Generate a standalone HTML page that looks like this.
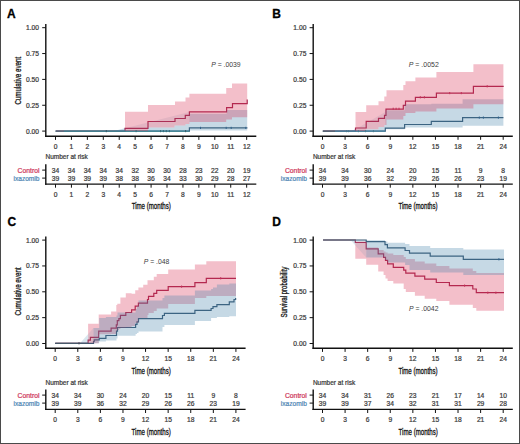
<!DOCTYPE html>
<html><head><meta charset="utf-8"><style>
html,body{margin:0;padding:0;background:#fff;}
body{width:520px;height:444px;overflow:hidden;}
svg{display:block;font-family:"Liberation Sans", sans-serif;}
</style></head><body>
<svg width="520" height="444" viewBox="0 0 520 444">
<rect x="0" y="0" width="520" height="444" fill="#fff"/>
<text x="7.1" y="17.5" font-size="12" text-anchor="start" fill="#000" font-weight="bold" font-style="normal" stroke="#000" stroke-width="0.3" >A</text>
<path d="M56 131.1H125V128.3H148V121.5H175V118.5H185.3V115.3H189.4V111.8H226.6V107.6H232.5V103.7H247.2V99.6H247.2" fill="none" stroke="#A5274F" stroke-width="1.2"/>
<path d="M55.5 131.1H189.4V127.9H247.4" fill="none" stroke="#3A5872" stroke-width="1.2"/>
<path d="M55.5 131.1H64" fill="none" stroke="#5F7585" stroke-width="1.2"/>
<path d="M64 131.1H189.4" fill="none" stroke="#3F8C98" stroke-width="1.2"/>
<defs><clipPath id="pcA"><path d="M125 111.8H148V104.9H175V101.5H185.5V97.6H189.4V93.7H226.2V88.1H232V83.4H247.2V117.3H232V119.4H226.2V122H189.4V124H185.5V125.5H174.5V127.6H148V131.1H125Z"/></clipPath><mask id="pmA" maskUnits="userSpaceOnUse" x="0" y="0" width="520" height="444"><rect x="0" y="0" width="520" height="444" fill="#fff"/><path d="M125 111.8H148V104.9H175V101.5H185.5V97.6H189.4V93.7H226.2V88.1H232V83.4H247.2V117.3H232V119.4H226.2V122H189.4V124H185.5V125.5H174.5V127.6H148V131.1H125Z" fill="#000"/></mask></defs>
<path d="M114 131.1L189.4 112V131.1Z" fill="#4180A8" fill-opacity="0.3" mask="url(#pmA)"/>
<path d="M114 131.1L189.4 112V131.1Z" fill="#4180A8" fill-opacity="0.12" clip-path="url(#pcA)"/>
<path d="M189.4 113.8H226.6V110H247.2V130.6H189.4V131.1Z" fill="#4180A8" fill-opacity="0.3"/>
<path d="M125 111.8H148V104.9H175V101.5H185.5V97.6H189.4V93.7H226.2V88.1H232V83.4H247.2V117.3H232V119.4H226.2V122H189.4V124H185.5V125.5H174.5V127.6H148V131.1H125Z" fill="#D72A4E" fill-opacity="0.3"/>
<path d="M106.3 130V132.2" stroke="#3a5a6a" stroke-width="1"/>
<path d="M136.1 130V132.2" stroke="#3a6a7a" stroke-width="1"/>
<path d="M160.5 130V132.2" stroke="#3a6a7a" stroke-width="1"/>
<path d="M163.4 130V132.2" stroke="#3a6a7a" stroke-width="1"/>
<path d="M166.3 130V132.2" stroke="#3a6a7a" stroke-width="1"/>
<path d="M169.4 130V132.2" stroke="#3a6a7a" stroke-width="1"/>
<path d="M185.6 130V132.2" stroke="#3a5a6a" stroke-width="1"/>
<path d="M200.5 126.8V129" stroke="#32638C" stroke-width="1"/>
<path d="M226.2 126.8V129" stroke="#32638C" stroke-width="1"/>
<path d="M231.2 126.8V129" stroke="#32638C" stroke-width="1"/>
<path d="M245.8 126.8V129" stroke="#32638C" stroke-width="1"/>
<path d="M45.8 24V137" stroke="#111" stroke-width="1.4"/>
<path d="M45.1 136.3H256.3" stroke="#111" stroke-width="1.4"/>
<path d="M42.2 131.1H45.8" stroke="#111" stroke-width="1"/>
<text x="39" y="133.5" font-size="6.7" text-anchor="end" fill="#3a3a3a" font-weight="normal" font-style="normal" stroke="#3a3a3a" stroke-width="0.22" >0.00</text>
<path d="M42.2 105.25H45.8" stroke="#111" stroke-width="1"/>
<text x="39" y="107.65" font-size="6.7" text-anchor="end" fill="#3a3a3a" font-weight="normal" font-style="normal" stroke="#3a3a3a" stroke-width="0.22" >0.25</text>
<path d="M42.2 79.4H45.8" stroke="#111" stroke-width="1"/>
<text x="39" y="81.8" font-size="6.7" text-anchor="end" fill="#3a3a3a" font-weight="normal" font-style="normal" stroke="#3a3a3a" stroke-width="0.22" >0.50</text>
<path d="M42.2 53.55H45.8" stroke="#111" stroke-width="1"/>
<text x="39" y="55.95" font-size="6.7" text-anchor="end" fill="#3a3a3a" font-weight="normal" font-style="normal" stroke="#3a3a3a" stroke-width="0.22" >0.75</text>
<path d="M42.2 27.7H45.8" stroke="#111" stroke-width="1"/>
<text x="39" y="30.1" font-size="6.7" text-anchor="end" fill="#3a3a3a" font-weight="normal" font-style="normal" stroke="#3a3a3a" stroke-width="0.22" >1.00</text>
<path d="M55.5 136.3V139.9" stroke="#111" stroke-width="1"/>
<text x="55.5" y="148.5" font-size="6.7" text-anchor="middle" fill="#3a3a3a" font-weight="normal" font-style="normal" stroke="#3a3a3a" stroke-width="0.22" >0</text>
<path d="M71.43 136.3V139.9" stroke="#111" stroke-width="1"/>
<text x="71.43" y="148.5" font-size="6.7" text-anchor="middle" fill="#3a3a3a" font-weight="normal" font-style="normal" stroke="#3a3a3a" stroke-width="0.22" >1</text>
<path d="M87.36 136.3V139.9" stroke="#111" stroke-width="1"/>
<text x="87.36" y="148.5" font-size="6.7" text-anchor="middle" fill="#3a3a3a" font-weight="normal" font-style="normal" stroke="#3a3a3a" stroke-width="0.22" >2</text>
<path d="M103.29 136.3V139.9" stroke="#111" stroke-width="1"/>
<text x="103.29" y="148.5" font-size="6.7" text-anchor="middle" fill="#3a3a3a" font-weight="normal" font-style="normal" stroke="#3a3a3a" stroke-width="0.22" >3</text>
<path d="M119.22 136.3V139.9" stroke="#111" stroke-width="1"/>
<text x="119.22" y="148.5" font-size="6.7" text-anchor="middle" fill="#3a3a3a" font-weight="normal" font-style="normal" stroke="#3a3a3a" stroke-width="0.22" >4</text>
<path d="M135.15 136.3V139.9" stroke="#111" stroke-width="1"/>
<text x="135.15" y="148.5" font-size="6.7" text-anchor="middle" fill="#3a3a3a" font-weight="normal" font-style="normal" stroke="#3a3a3a" stroke-width="0.22" >5</text>
<path d="M151.08 136.3V139.9" stroke="#111" stroke-width="1"/>
<text x="151.08" y="148.5" font-size="6.7" text-anchor="middle" fill="#3a3a3a" font-weight="normal" font-style="normal" stroke="#3a3a3a" stroke-width="0.22" >6</text>
<path d="M167.01 136.3V139.9" stroke="#111" stroke-width="1"/>
<text x="167.01" y="148.5" font-size="6.7" text-anchor="middle" fill="#3a3a3a" font-weight="normal" font-style="normal" stroke="#3a3a3a" stroke-width="0.22" >7</text>
<path d="M182.94 136.3V139.9" stroke="#111" stroke-width="1"/>
<text x="182.94" y="148.5" font-size="6.7" text-anchor="middle" fill="#3a3a3a" font-weight="normal" font-style="normal" stroke="#3a3a3a" stroke-width="0.22" >8</text>
<path d="M198.87 136.3V139.9" stroke="#111" stroke-width="1"/>
<text x="198.87" y="148.5" font-size="6.7" text-anchor="middle" fill="#3a3a3a" font-weight="normal" font-style="normal" stroke="#3a3a3a" stroke-width="0.22" >9</text>
<path d="M214.8 136.3V139.9" stroke="#111" stroke-width="1"/>
<text x="214.8" y="148.5" font-size="6.7" text-anchor="middle" fill="#3a3a3a" font-weight="normal" font-style="normal" stroke="#3a3a3a" stroke-width="0.22" >10</text>
<path d="M230.73 136.3V139.9" stroke="#111" stroke-width="1"/>
<text x="230.73" y="148.5" font-size="6.7" text-anchor="middle" fill="#3a3a3a" font-weight="normal" font-style="normal" stroke="#3a3a3a" stroke-width="0.22" >11</text>
<path d="M246.66 136.3V139.9" stroke="#111" stroke-width="1"/>
<text x="246.66" y="148.5" font-size="6.7" text-anchor="middle" fill="#3a3a3a" font-weight="normal" font-style="normal" stroke="#3a3a3a" stroke-width="0.22" >12</text>
<text transform="translate(20.8 80.75) rotate(-90)" font-size="8.8" text-anchor="middle" fill="#111" stroke="#111" stroke-width="0.3" textLength="47.7" lengthAdjust="spacingAndGlyphs">Cumulative event</text>
<text x="211.2" y="66.7" font-size="6.9" fill="#3a3a3a" textLength="29.5" lengthAdjust="spacingAndGlyphs"><tspan font-style="italic">P</tspan> = .0039</text>
<text x="45.5" y="159.2" font-size="6.5" text-anchor="start" fill="#3a3a3a" font-weight="normal" font-style="normal" stroke="#3a3a3a" stroke-width="0.22" >Number at risk</text>
<text x="39.5" y="173" font-size="6.6" text-anchor="end" fill="#CF3A60" font-weight="normal" font-style="normal" stroke="#CF3A60" stroke-width="0.22" textLength="22" lengthAdjust="spacingAndGlyphs">Control</text>
<text x="39.5" y="181" font-size="6.6" text-anchor="end" fill="#4F87B5" font-weight="normal" font-style="normal" stroke="#4F87B5" stroke-width="0.22" >ixazomib</text>
<text x="55.5" y="173" font-size="6.7" text-anchor="middle" fill="#3a3a3a" font-weight="normal" font-style="normal" stroke="#3a3a3a" stroke-width="0.22" >34</text>
<text x="55.5" y="181" font-size="6.7" text-anchor="middle" fill="#3a3a3a" font-weight="normal" font-style="normal" stroke="#3a3a3a" stroke-width="0.22" >39</text>
<text x="71.43" y="173" font-size="6.7" text-anchor="middle" fill="#3a3a3a" font-weight="normal" font-style="normal" stroke="#3a3a3a" stroke-width="0.22" >34</text>
<text x="71.43" y="181" font-size="6.7" text-anchor="middle" fill="#3a3a3a" font-weight="normal" font-style="normal" stroke="#3a3a3a" stroke-width="0.22" >39</text>
<text x="87.36" y="173" font-size="6.7" text-anchor="middle" fill="#3a3a3a" font-weight="normal" font-style="normal" stroke="#3a3a3a" stroke-width="0.22" >34</text>
<text x="87.36" y="181" font-size="6.7" text-anchor="middle" fill="#3a3a3a" font-weight="normal" font-style="normal" stroke="#3a3a3a" stroke-width="0.22" >39</text>
<text x="103.29" y="173" font-size="6.7" text-anchor="middle" fill="#3a3a3a" font-weight="normal" font-style="normal" stroke="#3a3a3a" stroke-width="0.22" >34</text>
<text x="103.29" y="181" font-size="6.7" text-anchor="middle" fill="#3a3a3a" font-weight="normal" font-style="normal" stroke="#3a3a3a" stroke-width="0.22" >39</text>
<text x="119.22" y="173" font-size="6.7" text-anchor="middle" fill="#3a3a3a" font-weight="normal" font-style="normal" stroke="#3a3a3a" stroke-width="0.22" >34</text>
<text x="119.22" y="181" font-size="6.7" text-anchor="middle" fill="#3a3a3a" font-weight="normal" font-style="normal" stroke="#3a3a3a" stroke-width="0.22" >38</text>
<text x="135.15" y="173" font-size="6.7" text-anchor="middle" fill="#3a3a3a" font-weight="normal" font-style="normal" stroke="#3a3a3a" stroke-width="0.22" >32</text>
<text x="135.15" y="181" font-size="6.7" text-anchor="middle" fill="#3a3a3a" font-weight="normal" font-style="normal" stroke="#3a3a3a" stroke-width="0.22" >38</text>
<text x="151.08" y="173" font-size="6.7" text-anchor="middle" fill="#3a3a3a" font-weight="normal" font-style="normal" stroke="#3a3a3a" stroke-width="0.22" >30</text>
<text x="151.08" y="181" font-size="6.7" text-anchor="middle" fill="#3a3a3a" font-weight="normal" font-style="normal" stroke="#3a3a3a" stroke-width="0.22" >36</text>
<text x="167.01" y="173" font-size="6.7" text-anchor="middle" fill="#3a3a3a" font-weight="normal" font-style="normal" stroke="#3a3a3a" stroke-width="0.22" >30</text>
<text x="167.01" y="181" font-size="6.7" text-anchor="middle" fill="#3a3a3a" font-weight="normal" font-style="normal" stroke="#3a3a3a" stroke-width="0.22" >34</text>
<text x="182.94" y="173" font-size="6.7" text-anchor="middle" fill="#3a3a3a" font-weight="normal" font-style="normal" stroke="#3a3a3a" stroke-width="0.22" >28</text>
<text x="182.94" y="181" font-size="6.7" text-anchor="middle" fill="#3a3a3a" font-weight="normal" font-style="normal" stroke="#3a3a3a" stroke-width="0.22" >33</text>
<text x="198.87" y="173" font-size="6.7" text-anchor="middle" fill="#3a3a3a" font-weight="normal" font-style="normal" stroke="#3a3a3a" stroke-width="0.22" >23</text>
<text x="198.87" y="181" font-size="6.7" text-anchor="middle" fill="#3a3a3a" font-weight="normal" font-style="normal" stroke="#3a3a3a" stroke-width="0.22" >30</text>
<text x="214.8" y="173" font-size="6.7" text-anchor="middle" fill="#3a3a3a" font-weight="normal" font-style="normal" stroke="#3a3a3a" stroke-width="0.22" >22</text>
<text x="214.8" y="181" font-size="6.7" text-anchor="middle" fill="#3a3a3a" font-weight="normal" font-style="normal" stroke="#3a3a3a" stroke-width="0.22" >29</text>
<text x="230.73" y="173" font-size="6.7" text-anchor="middle" fill="#3a3a3a" font-weight="normal" font-style="normal" stroke="#3a3a3a" stroke-width="0.22" >20</text>
<text x="230.73" y="181" font-size="6.7" text-anchor="middle" fill="#3a3a3a" font-weight="normal" font-style="normal" stroke="#3a3a3a" stroke-width="0.22" >28</text>
<text x="246.66" y="173" font-size="6.7" text-anchor="middle" fill="#3a3a3a" font-weight="normal" font-style="normal" stroke="#3a3a3a" stroke-width="0.22" >19</text>
<text x="246.66" y="181" font-size="6.7" text-anchor="middle" fill="#3a3a3a" font-weight="normal" font-style="normal" stroke="#3a3a3a" stroke-width="0.22" >27</text>
<path d="M45.8 164.2V184.8" stroke="#111" stroke-width="1.4"/>
<path d="M45.1 184.1H256.3" stroke="#111" stroke-width="1.4"/>
<path d="M42.2 170.1H45.8" stroke="#111" stroke-width="1"/>
<path d="M42.2 178.1H45.8" stroke="#111" stroke-width="1"/>
<path d="M55.5 184.1V187.7" stroke="#111" stroke-width="1"/>
<text x="55.5" y="196.8" font-size="6.7" text-anchor="middle" fill="#3a3a3a" font-weight="normal" font-style="normal" stroke="#3a3a3a" stroke-width="0.22" >0</text>
<path d="M71.43 184.1V187.7" stroke="#111" stroke-width="1"/>
<text x="71.43" y="196.8" font-size="6.7" text-anchor="middle" fill="#3a3a3a" font-weight="normal" font-style="normal" stroke="#3a3a3a" stroke-width="0.22" >1</text>
<path d="M87.36 184.1V187.7" stroke="#111" stroke-width="1"/>
<text x="87.36" y="196.8" font-size="6.7" text-anchor="middle" fill="#3a3a3a" font-weight="normal" font-style="normal" stroke="#3a3a3a" stroke-width="0.22" >2</text>
<path d="M103.29 184.1V187.7" stroke="#111" stroke-width="1"/>
<text x="103.29" y="196.8" font-size="6.7" text-anchor="middle" fill="#3a3a3a" font-weight="normal" font-style="normal" stroke="#3a3a3a" stroke-width="0.22" >3</text>
<path d="M119.22 184.1V187.7" stroke="#111" stroke-width="1"/>
<text x="119.22" y="196.8" font-size="6.7" text-anchor="middle" fill="#3a3a3a" font-weight="normal" font-style="normal" stroke="#3a3a3a" stroke-width="0.22" >4</text>
<path d="M135.15 184.1V187.7" stroke="#111" stroke-width="1"/>
<text x="135.15" y="196.8" font-size="6.7" text-anchor="middle" fill="#3a3a3a" font-weight="normal" font-style="normal" stroke="#3a3a3a" stroke-width="0.22" >5</text>
<path d="M151.08 184.1V187.7" stroke="#111" stroke-width="1"/>
<text x="151.08" y="196.8" font-size="6.7" text-anchor="middle" fill="#3a3a3a" font-weight="normal" font-style="normal" stroke="#3a3a3a" stroke-width="0.22" >6</text>
<path d="M167.01 184.1V187.7" stroke="#111" stroke-width="1"/>
<text x="167.01" y="196.8" font-size="6.7" text-anchor="middle" fill="#3a3a3a" font-weight="normal" font-style="normal" stroke="#3a3a3a" stroke-width="0.22" >7</text>
<path d="M182.94 184.1V187.7" stroke="#111" stroke-width="1"/>
<text x="182.94" y="196.8" font-size="6.7" text-anchor="middle" fill="#3a3a3a" font-weight="normal" font-style="normal" stroke="#3a3a3a" stroke-width="0.22" >8</text>
<path d="M198.87 184.1V187.7" stroke="#111" stroke-width="1"/>
<text x="198.87" y="196.8" font-size="6.7" text-anchor="middle" fill="#3a3a3a" font-weight="normal" font-style="normal" stroke="#3a3a3a" stroke-width="0.22" >9</text>
<path d="M214.8 184.1V187.7" stroke="#111" stroke-width="1"/>
<text x="214.8" y="196.8" font-size="6.7" text-anchor="middle" fill="#3a3a3a" font-weight="normal" font-style="normal" stroke="#3a3a3a" stroke-width="0.22" >10</text>
<path d="M230.73 184.1V187.7" stroke="#111" stroke-width="1"/>
<text x="230.73" y="196.8" font-size="6.7" text-anchor="middle" fill="#3a3a3a" font-weight="normal" font-style="normal" stroke="#3a3a3a" stroke-width="0.22" >11</text>
<path d="M246.66 184.1V187.7" stroke="#111" stroke-width="1"/>
<text x="246.66" y="196.8" font-size="6.7" text-anchor="middle" fill="#3a3a3a" font-weight="normal" font-style="normal" stroke="#3a3a3a" stroke-width="0.22" >12</text>
<text x="151.25" y="208.9" font-size="9.3" text-anchor="middle" fill="#111" stroke="#111" stroke-width="0.32" textLength="39.2" lengthAdjust="spacingAndGlyphs">Time (months)</text>
<text x="272.3" y="17.5" font-size="12" text-anchor="start" fill="#000" font-weight="bold" font-style="normal" stroke="#000" stroke-width="0.3" >B</text>
<path d="M323 131.1H355.5V128H366.2V121.3H378.5V118.4H384.5V115.3H386V109.1H403.3V105.4H405.5V101.2H415.4V97.3H436.4V93.1H473.4V86.3H503.7" fill="none" stroke="#A5274F" stroke-width="1.2"/>
<path d="M323 131.1H385.3V128.2H404.6V124.5H431.3V121.3H462.6V117.6H503.4" fill="none" stroke="#3A5872" stroke-width="1.2"/>
<path d="M322.5 131.1H335" fill="none" stroke="#5A6A78" stroke-width="1.2"/>
<path d="M335 131.1H385.3" fill="none" stroke="#4A88A5" stroke-width="1.2"/>
<defs><clipPath id="pcB"><path d="M355.5 112H366.2V105.3H378.5V101.3H384.3V96.5H386.5V90.2H403.3V85H405.5V81.3H415.4V77.5H436.4V71.9H473.4V64.2H503.4V104.3H473.4V108.5H436.4V111.5H415.4V113H405.5V116H403.3V119.4H386.5V125H384.3V127H378.5V129.2H366.2V131.1H355.5Z"/></clipPath><mask id="pmB" maskUnits="userSpaceOnUse" x="0" y="0" width="520" height="444"><rect x="0" y="0" width="520" height="444" fill="#fff"/><path d="M355.5 112H366.2V105.3H378.5V101.3H384.3V96.5H386.5V90.2H403.3V85H405.5V81.3H415.4V77.5H436.4V71.9H473.4V64.2H503.4V104.3H473.4V108.5H436.4V111.5H415.4V113H405.5V116H403.3V119.4H386.5V125H384.3V127H378.5V129.2H366.2V131.1H355.5Z" fill="#000"/></mask></defs>
<path d="M352 131.1L385.3 112V131.1Z" fill="#4180A8" fill-opacity="0.3" mask="url(#pmB)"/>
<path d="M352 131.1L385.3 112V131.1Z" fill="#4180A8" fill-opacity="0.12" clip-path="url(#pcB)"/>
<path d="M385.3 110.2H404.6V104.2H431.3V103.8H462.6V99.2H503.4V125.8H462.6V127.4H404.6V129.2H385.3V131.1Z" fill="#4180A8" fill-opacity="0.3"/>
<path d="M355.5 112H366.2V105.3H378.5V101.3H384.3V96.5H386.5V90.2H403.3V85H405.5V81.3H415.4V77.5H436.4V71.9H473.4V64.2H503.4V104.3H473.4V108.5H436.4V111.5H415.4V113H405.5V116H403.3V119.4H386.5V125H384.3V127H378.5V129.2H366.2V131.1H355.5Z" fill="#D72A4E" fill-opacity="0.3"/>
<path d="M346.6 130V132.2" stroke="#4a7a90" stroke-width="1"/>
<path d="M348.6 130V132.2" stroke="#4a7a90" stroke-width="1"/>
<path d="M358.4 130V132.2" stroke="#4a7a90" stroke-width="1"/>
<path d="M365.5 130V132.2" stroke="#4a7a90" stroke-width="1"/>
<path d="M373.4 130V132.2" stroke="#4a7a90" stroke-width="1"/>
<path d="M393.2 107.7V109.9" stroke="#C23158" stroke-width="1"/>
<path d="M396.1 107.7V109.9" stroke="#C23158" stroke-width="1"/>
<path d="M399 107.7V109.9" stroke="#C23158" stroke-width="1"/>
<path d="M420.3 96.2V98.4" stroke="#C23158" stroke-width="1"/>
<path d="M424.4 96.2V98.4" stroke="#C23158" stroke-width="1"/>
<path d="M449.7 92V94.2" stroke="#C23158" stroke-width="1"/>
<path d="M461.3 92V94.2" stroke="#C23158" stroke-width="1"/>
<path d="M487.2 85.2V87.4" stroke="#C23158" stroke-width="1"/>
<path d="M479.3 116.5V118.7" stroke="#32638C" stroke-width="1"/>
<path d="M483.4 116.5V118.7" stroke="#32638C" stroke-width="1"/>
<path d="M498.4 116.5V118.7" stroke="#32638C" stroke-width="1"/>
<path d="M313.2 24V136.9" stroke="#111" stroke-width="1.4"/>
<path d="M312.5 136.2H512.8" stroke="#111" stroke-width="1.4"/>
<path d="M309.6 131.1H313.2" stroke="#111" stroke-width="1"/>
<text x="306.4" y="133.5" font-size="6.7" text-anchor="end" fill="#3a3a3a" font-weight="normal" font-style="normal" stroke="#3a3a3a" stroke-width="0.22" >0.00</text>
<path d="M309.6 105.25H313.2" stroke="#111" stroke-width="1"/>
<text x="306.4" y="107.65" font-size="6.7" text-anchor="end" fill="#3a3a3a" font-weight="normal" font-style="normal" stroke="#3a3a3a" stroke-width="0.22" >0.25</text>
<path d="M309.6 79.4H313.2" stroke="#111" stroke-width="1"/>
<text x="306.4" y="81.8" font-size="6.7" text-anchor="end" fill="#3a3a3a" font-weight="normal" font-style="normal" stroke="#3a3a3a" stroke-width="0.22" >0.50</text>
<path d="M309.6 53.55H313.2" stroke="#111" stroke-width="1"/>
<text x="306.4" y="55.95" font-size="6.7" text-anchor="end" fill="#3a3a3a" font-weight="normal" font-style="normal" stroke="#3a3a3a" stroke-width="0.22" >0.75</text>
<path d="M309.6 27.7H313.2" stroke="#111" stroke-width="1"/>
<text x="306.4" y="30.1" font-size="6.7" text-anchor="end" fill="#3a3a3a" font-weight="normal" font-style="normal" stroke="#3a3a3a" stroke-width="0.22" >1.00</text>
<path d="M322.5 136.2V139.8" stroke="#111" stroke-width="1"/>
<text x="322.5" y="148.5" font-size="6.7" text-anchor="middle" fill="#3a3a3a" font-weight="normal" font-style="normal" stroke="#3a3a3a" stroke-width="0.22" >0</text>
<path d="M345.09 136.2V139.8" stroke="#111" stroke-width="1"/>
<text x="345.09" y="148.5" font-size="6.7" text-anchor="middle" fill="#3a3a3a" font-weight="normal" font-style="normal" stroke="#3a3a3a" stroke-width="0.22" >3</text>
<path d="M367.67 136.2V139.8" stroke="#111" stroke-width="1"/>
<text x="367.67" y="148.5" font-size="6.7" text-anchor="middle" fill="#3a3a3a" font-weight="normal" font-style="normal" stroke="#3a3a3a" stroke-width="0.22" >6</text>
<path d="M390.26 136.2V139.8" stroke="#111" stroke-width="1"/>
<text x="390.26" y="148.5" font-size="6.7" text-anchor="middle" fill="#3a3a3a" font-weight="normal" font-style="normal" stroke="#3a3a3a" stroke-width="0.22" >9</text>
<path d="M412.85 136.2V139.8" stroke="#111" stroke-width="1"/>
<text x="412.85" y="148.5" font-size="6.7" text-anchor="middle" fill="#3a3a3a" font-weight="normal" font-style="normal" stroke="#3a3a3a" stroke-width="0.22" >12</text>
<path d="M435.44 136.2V139.8" stroke="#111" stroke-width="1"/>
<text x="435.44" y="148.5" font-size="6.7" text-anchor="middle" fill="#3a3a3a" font-weight="normal" font-style="normal" stroke="#3a3a3a" stroke-width="0.22" >15</text>
<path d="M458.02 136.2V139.8" stroke="#111" stroke-width="1"/>
<text x="458.02" y="148.5" font-size="6.7" text-anchor="middle" fill="#3a3a3a" font-weight="normal" font-style="normal" stroke="#3a3a3a" stroke-width="0.22" >18</text>
<path d="M480.61 136.2V139.8" stroke="#111" stroke-width="1"/>
<text x="480.61" y="148.5" font-size="6.7" text-anchor="middle" fill="#3a3a3a" font-weight="normal" font-style="normal" stroke="#3a3a3a" stroke-width="0.22" >21</text>
<path d="M503.2 136.2V139.8" stroke="#111" stroke-width="1"/>
<text x="503.2" y="148.5" font-size="6.7" text-anchor="middle" fill="#3a3a3a" font-weight="normal" font-style="normal" stroke="#3a3a3a" stroke-width="0.22" >24</text>
<text x="408.8" y="66.7" font-size="6.9" fill="#3a3a3a" textLength="30" lengthAdjust="spacingAndGlyphs"><tspan font-style="italic">P</tspan> = .0052</text>
<text x="312.9" y="159.2" font-size="6.5" text-anchor="start" fill="#3a3a3a" font-weight="normal" font-style="normal" stroke="#3a3a3a" stroke-width="0.22" >Number at risk</text>
<text x="306.9" y="173" font-size="6.6" text-anchor="end" fill="#CF3A60" font-weight="normal" font-style="normal" stroke="#CF3A60" stroke-width="0.22" textLength="22" lengthAdjust="spacingAndGlyphs">Control</text>
<text x="306.9" y="181" font-size="6.6" text-anchor="end" fill="#4F87B5" font-weight="normal" font-style="normal" stroke="#4F87B5" stroke-width="0.22" >ixazomib</text>
<text x="322.5" y="173" font-size="6.7" text-anchor="middle" fill="#3a3a3a" font-weight="normal" font-style="normal" stroke="#3a3a3a" stroke-width="0.22" >34</text>
<text x="322.5" y="181" font-size="6.7" text-anchor="middle" fill="#3a3a3a" font-weight="normal" font-style="normal" stroke="#3a3a3a" stroke-width="0.22" >39</text>
<text x="345.09" y="173" font-size="6.7" text-anchor="middle" fill="#3a3a3a" font-weight="normal" font-style="normal" stroke="#3a3a3a" stroke-width="0.22" >34</text>
<text x="345.09" y="181" font-size="6.7" text-anchor="middle" fill="#3a3a3a" font-weight="normal" font-style="normal" stroke="#3a3a3a" stroke-width="0.22" >39</text>
<text x="367.67" y="173" font-size="6.7" text-anchor="middle" fill="#3a3a3a" font-weight="normal" font-style="normal" stroke="#3a3a3a" stroke-width="0.22" >30</text>
<text x="367.67" y="181" font-size="6.7" text-anchor="middle" fill="#3a3a3a" font-weight="normal" font-style="normal" stroke="#3a3a3a" stroke-width="0.22" >36</text>
<text x="390.26" y="173" font-size="6.7" text-anchor="middle" fill="#3a3a3a" font-weight="normal" font-style="normal" stroke="#3a3a3a" stroke-width="0.22" >24</text>
<text x="390.26" y="181" font-size="6.7" text-anchor="middle" fill="#3a3a3a" font-weight="normal" font-style="normal" stroke="#3a3a3a" stroke-width="0.22" >32</text>
<text x="412.85" y="173" font-size="6.7" text-anchor="middle" fill="#3a3a3a" font-weight="normal" font-style="normal" stroke="#3a3a3a" stroke-width="0.22" >20</text>
<text x="412.85" y="181" font-size="6.7" text-anchor="middle" fill="#3a3a3a" font-weight="normal" font-style="normal" stroke="#3a3a3a" stroke-width="0.22" >29</text>
<text x="435.44" y="173" font-size="6.7" text-anchor="middle" fill="#3a3a3a" font-weight="normal" font-style="normal" stroke="#3a3a3a" stroke-width="0.22" >15</text>
<text x="435.44" y="181" font-size="6.7" text-anchor="middle" fill="#3a3a3a" font-weight="normal" font-style="normal" stroke="#3a3a3a" stroke-width="0.22" >26</text>
<text x="458.02" y="173" font-size="6.7" text-anchor="middle" fill="#3a3a3a" font-weight="normal" font-style="normal" stroke="#3a3a3a" stroke-width="0.22" >11</text>
<text x="458.02" y="181" font-size="6.7" text-anchor="middle" fill="#3a3a3a" font-weight="normal" font-style="normal" stroke="#3a3a3a" stroke-width="0.22" >26</text>
<text x="480.61" y="173" font-size="6.7" text-anchor="middle" fill="#3a3a3a" font-weight="normal" font-style="normal" stroke="#3a3a3a" stroke-width="0.22" >9</text>
<text x="480.61" y="181" font-size="6.7" text-anchor="middle" fill="#3a3a3a" font-weight="normal" font-style="normal" stroke="#3a3a3a" stroke-width="0.22" >23</text>
<text x="503.2" y="173" font-size="6.7" text-anchor="middle" fill="#3a3a3a" font-weight="normal" font-style="normal" stroke="#3a3a3a" stroke-width="0.22" >8</text>
<text x="503.2" y="181" font-size="6.7" text-anchor="middle" fill="#3a3a3a" font-weight="normal" font-style="normal" stroke="#3a3a3a" stroke-width="0.22" >19</text>
<path d="M313.2 164.2V184.8" stroke="#111" stroke-width="1.4"/>
<path d="M312.5 184.1H512.8" stroke="#111" stroke-width="1.4"/>
<path d="M309.6 170.1H313.2" stroke="#111" stroke-width="1"/>
<path d="M309.6 178.1H313.2" stroke="#111" stroke-width="1"/>
<path d="M322.5 184.1V187.7" stroke="#111" stroke-width="1"/>
<text x="322.5" y="196.8" font-size="6.7" text-anchor="middle" fill="#3a3a3a" font-weight="normal" font-style="normal" stroke="#3a3a3a" stroke-width="0.22" >0</text>
<path d="M345.09 184.1V187.7" stroke="#111" stroke-width="1"/>
<text x="345.09" y="196.8" font-size="6.7" text-anchor="middle" fill="#3a3a3a" font-weight="normal" font-style="normal" stroke="#3a3a3a" stroke-width="0.22" >3</text>
<path d="M367.67 184.1V187.7" stroke="#111" stroke-width="1"/>
<text x="367.67" y="196.8" font-size="6.7" text-anchor="middle" fill="#3a3a3a" font-weight="normal" font-style="normal" stroke="#3a3a3a" stroke-width="0.22" >6</text>
<path d="M390.26 184.1V187.7" stroke="#111" stroke-width="1"/>
<text x="390.26" y="196.8" font-size="6.7" text-anchor="middle" fill="#3a3a3a" font-weight="normal" font-style="normal" stroke="#3a3a3a" stroke-width="0.22" >9</text>
<path d="M412.85 184.1V187.7" stroke="#111" stroke-width="1"/>
<text x="412.85" y="196.8" font-size="6.7" text-anchor="middle" fill="#3a3a3a" font-weight="normal" font-style="normal" stroke="#3a3a3a" stroke-width="0.22" >12</text>
<path d="M435.44 184.1V187.7" stroke="#111" stroke-width="1"/>
<text x="435.44" y="196.8" font-size="6.7" text-anchor="middle" fill="#3a3a3a" font-weight="normal" font-style="normal" stroke="#3a3a3a" stroke-width="0.22" >15</text>
<path d="M458.02 184.1V187.7" stroke="#111" stroke-width="1"/>
<text x="458.02" y="196.8" font-size="6.7" text-anchor="middle" fill="#3a3a3a" font-weight="normal" font-style="normal" stroke="#3a3a3a" stroke-width="0.22" >18</text>
<path d="M480.61 184.1V187.7" stroke="#111" stroke-width="1"/>
<text x="480.61" y="196.8" font-size="6.7" text-anchor="middle" fill="#3a3a3a" font-weight="normal" font-style="normal" stroke="#3a3a3a" stroke-width="0.22" >21</text>
<path d="M503.2 184.1V187.7" stroke="#111" stroke-width="1"/>
<text x="503.2" y="196.8" font-size="6.7" text-anchor="middle" fill="#3a3a3a" font-weight="normal" font-style="normal" stroke="#3a3a3a" stroke-width="0.22" >24</text>
<text x="418" y="208.9" font-size="9.3" text-anchor="middle" fill="#111" stroke="#111" stroke-width="0.32" textLength="39.2" lengthAdjust="spacingAndGlyphs">Time (months)</text>
<text x="7.4" y="225.6" font-size="12" text-anchor="start" fill="#000" font-weight="bold" font-style="normal" stroke="#000" stroke-width="0.3" >C</text>
<path d="M55.2 343.3H88.1V340.2H90.4V337.3H98.7V331.1H111.1V328.2H116.3V324.9H117.3V320.7H118.9V318.7H120.4V315.3H125.8V312.5H131.6V309.8H135.2V306.2H138.4V303.1H143.2V303.1H147.5V299.5H148.5V296.3H153.8V293.3H156.7V290.4H168.2V286.6H194.9V282.7H206.3V278.3H236" fill="none" stroke="#A5274F" stroke-width="1.2"/>
<path d="M55.2 343.3H93.5V341.5H94.2V339.9H99.2V338.3H105.9V335.5H116.5V331.1H117.5V327.5H135.6V324.4H137V321.8H138.5V318.7H162.5V315.5H164.4V313.4H194.9V310.4H211.1V308.5H213V306.6H216.9V304.7H229.3V301.8H234V299.5H235.6V298H235.6" fill="none" stroke="#3A5872" stroke-width="1.2"/>
<path d="M55.2 343.3H88.1" fill="none" stroke="#485A6A" stroke-width="1.2"/>
<path d="M88.1 323.8H90.4V323.8H98.7V314.5H111.1V311.4H116.3V305H117.3V303.7H118.9V303.7H120.4V297.4H125.8V293.3H131.6V293.8H135.2V290.2H138.4V287.5H143.2V284.8H147.5V280.3H148.5V280.3H153.8V276.7H156.7V274H168.2V269.6H194.9V264.6H206.3V261.3H236V296.1H206.3V298H194.9V304H168.2V308.5H156.7V311H153.8V313H148.5V315H147.5V318H143.2V318H138.4V323H135.2V326H131.6V327.5H125.8V328H120.4V329H118.9V330H117.3V331H116.3V334H111.1V334.2H98.7V343.3H90.4V343.3H88.1Z" fill="#D72A4E" fill-opacity="0.3"/>
<defs><clipPath id="pcC"><path d="M88.1 323.8H90.4V323.8H98.7V314.5H111.1V311.4H116.3V305H117.3V303.7H118.9V303.7H120.4V297.4H125.8V293.3H131.6V293.8H135.2V290.2H138.4V287.5H143.2V284.8H147.5V280.3H148.5V280.3H153.8V276.7H156.7V274H168.2V269.6H194.9V264.6H206.3V261.3H236V296.1H206.3V298H194.9V304H168.2V308.5H156.7V311H153.8V313H148.5V315H147.5V318H143.2V318H138.4V323H135.2V326H131.6V327.5H125.8V328H120.4V329H118.9V330H117.3V331H116.3V334H111.1V334.2H98.7V343.3H90.4V343.3H88.1Z"/></clipPath><mask id="pmC" maskUnits="userSpaceOnUse" x="0" y="0" width="520" height="444"><rect x="0" y="0" width="520" height="444" fill="#fff"/><path d="M88.1 323.8H90.4V323.8H98.7V314.5H111.1V311.4H116.3V305H117.3V303.7H118.9V303.7H120.4V297.4H125.8V293.3H131.6V293.8H135.2V290.2H138.4V287.5H143.2V284.8H147.5V280.3H148.5V280.3H153.8V276.7H156.7V274H168.2V269.6H194.9V264.6H206.3V261.3H236V296.1H206.3V298H194.9V304H168.2V308.5H156.7V311H153.8V313H148.5V315H147.5V318H143.2V318H138.4V323H135.2V326H131.6V327.5H125.8V328H120.4V329H118.9V330H117.3V331H116.3V334H111.1V334.2H98.7V343.3H90.4V343.3H88.1Z" fill="#000"/></mask></defs>
<path d="M80 343.3L93.5 328V343.3Z" fill="#4180A8" fill-opacity="0.2" mask="url(#pmC)"/>
<path d="M80 343.3L93.5 328V343.3Z" fill="#4180A8" fill-opacity="0.12" clip-path="url(#pcC)"/>
<path d="M93.5 343.3L93.5 328H94.2V328H99.2V318H105.9V317H116.5V315.5H117.5V312.5H135.6V309H137V306H138.5V300.5H162.5V298H164.4V295.5H194.9V290.4H211.1V289H213V287.5H216.9V284.6H229.3V283.5H234V283.5H236V316.2H234V316.2H229.3V317.1H216.9V318.1H213V318.1H211.1V321H194.9V324.9H164.4V327H162.5V331.5H138.5V333H137V334H135.6V335.8H117.5V338.5H116.5V340.4H105.9V341.5H99.2V343.3H94.2V343.3H93.5V343.3Z" fill="#4180A8" fill-opacity="0.3"/>
<path d="M181.6 285.5V287.7" stroke="#C23158" stroke-width="1"/>
<path d="M220.7 277.2V279.4" stroke="#C23158" stroke-width="1"/>
<path d="M79 342.2V344.4" stroke="#445" stroke-width="1"/>
<path d="M45.8 236.4V349" stroke="#111" stroke-width="1.4"/>
<path d="M45.1 348.3H245.6" stroke="#111" stroke-width="1.4"/>
<path d="M42.2 343.5H45.8" stroke="#111" stroke-width="1"/>
<text x="39" y="345.9" font-size="6.7" text-anchor="end" fill="#3a3a3a" font-weight="normal" font-style="normal" stroke="#3a3a3a" stroke-width="0.22" >0.00</text>
<path d="M42.2 317.65H45.8" stroke="#111" stroke-width="1"/>
<text x="39" y="320.05" font-size="6.7" text-anchor="end" fill="#3a3a3a" font-weight="normal" font-style="normal" stroke="#3a3a3a" stroke-width="0.22" >0.25</text>
<path d="M42.2 291.8H45.8" stroke="#111" stroke-width="1"/>
<text x="39" y="294.2" font-size="6.7" text-anchor="end" fill="#3a3a3a" font-weight="normal" font-style="normal" stroke="#3a3a3a" stroke-width="0.22" >0.50</text>
<path d="M42.2 265.95H45.8" stroke="#111" stroke-width="1"/>
<text x="39" y="268.35" font-size="6.7" text-anchor="end" fill="#3a3a3a" font-weight="normal" font-style="normal" stroke="#3a3a3a" stroke-width="0.22" >0.75</text>
<path d="M42.2 240.1H45.8" stroke="#111" stroke-width="1"/>
<text x="39" y="242.5" font-size="6.7" text-anchor="end" fill="#3a3a3a" font-weight="normal" font-style="normal" stroke="#3a3a3a" stroke-width="0.22" >1.00</text>
<path d="M55.2 348.3V351.9" stroke="#111" stroke-width="1"/>
<text x="55.2" y="361" font-size="6.7" text-anchor="middle" fill="#3a3a3a" font-weight="normal" font-style="normal" stroke="#3a3a3a" stroke-width="0.22" >0</text>
<path d="M77.79 348.3V351.9" stroke="#111" stroke-width="1"/>
<text x="77.79" y="361" font-size="6.7" text-anchor="middle" fill="#3a3a3a" font-weight="normal" font-style="normal" stroke="#3a3a3a" stroke-width="0.22" >3</text>
<path d="M100.38 348.3V351.9" stroke="#111" stroke-width="1"/>
<text x="100.38" y="361" font-size="6.7" text-anchor="middle" fill="#3a3a3a" font-weight="normal" font-style="normal" stroke="#3a3a3a" stroke-width="0.22" >6</text>
<path d="M122.97 348.3V351.9" stroke="#111" stroke-width="1"/>
<text x="122.97" y="361" font-size="6.7" text-anchor="middle" fill="#3a3a3a" font-weight="normal" font-style="normal" stroke="#3a3a3a" stroke-width="0.22" >9</text>
<path d="M145.56 348.3V351.9" stroke="#111" stroke-width="1"/>
<text x="145.56" y="361" font-size="6.7" text-anchor="middle" fill="#3a3a3a" font-weight="normal" font-style="normal" stroke="#3a3a3a" stroke-width="0.22" >12</text>
<path d="M168.15 348.3V351.9" stroke="#111" stroke-width="1"/>
<text x="168.15" y="361" font-size="6.7" text-anchor="middle" fill="#3a3a3a" font-weight="normal" font-style="normal" stroke="#3a3a3a" stroke-width="0.22" >15</text>
<path d="M190.74 348.3V351.9" stroke="#111" stroke-width="1"/>
<text x="190.74" y="361" font-size="6.7" text-anchor="middle" fill="#3a3a3a" font-weight="normal" font-style="normal" stroke="#3a3a3a" stroke-width="0.22" >18</text>
<path d="M213.33 348.3V351.9" stroke="#111" stroke-width="1"/>
<text x="213.33" y="361" font-size="6.7" text-anchor="middle" fill="#3a3a3a" font-weight="normal" font-style="normal" stroke="#3a3a3a" stroke-width="0.22" >21</text>
<path d="M235.92 348.3V351.9" stroke="#111" stroke-width="1"/>
<text x="235.92" y="361" font-size="6.7" text-anchor="middle" fill="#3a3a3a" font-weight="normal" font-style="normal" stroke="#3a3a3a" stroke-width="0.22" >24</text>
<text transform="translate(21 291.5) rotate(-90)" font-size="8.8" text-anchor="middle" fill="#111" stroke="#111" stroke-width="0.3" textLength="48.2" lengthAdjust="spacingAndGlyphs">Cumulative event</text>
<text x="143.8" y="263.5" font-size="6.9" fill="#3a3a3a" textLength="25.5" lengthAdjust="spacingAndGlyphs"><tspan font-style="italic">P</tspan> = .048</text>
<text x="151.2" y="373.5" font-size="9.3" text-anchor="middle" fill="#111" stroke="#111" stroke-width="0.32" textLength="39.2" lengthAdjust="spacingAndGlyphs">Time (months)</text>
<text x="45.5" y="384.5" font-size="6.5" text-anchor="start" fill="#3a3a3a" font-weight="normal" font-style="normal" stroke="#3a3a3a" stroke-width="0.22" >Number at risk</text>
<text x="39.5" y="398" font-size="6.6" text-anchor="end" fill="#CF3A60" font-weight="normal" font-style="normal" stroke="#CF3A60" stroke-width="0.22" textLength="22" lengthAdjust="spacingAndGlyphs">Control</text>
<text x="39.5" y="406" font-size="6.6" text-anchor="end" fill="#4F87B5" font-weight="normal" font-style="normal" stroke="#4F87B5" stroke-width="0.22" >ixazomib</text>
<text x="55.2" y="398" font-size="6.7" text-anchor="middle" fill="#3a3a3a" font-weight="normal" font-style="normal" stroke="#3a3a3a" stroke-width="0.22" >34</text>
<text x="55.2" y="406" font-size="6.7" text-anchor="middle" fill="#3a3a3a" font-weight="normal" font-style="normal" stroke="#3a3a3a" stroke-width="0.22" >39</text>
<text x="77.79" y="398" font-size="6.7" text-anchor="middle" fill="#3a3a3a" font-weight="normal" font-style="normal" stroke="#3a3a3a" stroke-width="0.22" >34</text>
<text x="77.79" y="406" font-size="6.7" text-anchor="middle" fill="#3a3a3a" font-weight="normal" font-style="normal" stroke="#3a3a3a" stroke-width="0.22" >39</text>
<text x="100.38" y="398" font-size="6.7" text-anchor="middle" fill="#3a3a3a" font-weight="normal" font-style="normal" stroke="#3a3a3a" stroke-width="0.22" >30</text>
<text x="100.38" y="406" font-size="6.7" text-anchor="middle" fill="#3a3a3a" font-weight="normal" font-style="normal" stroke="#3a3a3a" stroke-width="0.22" >36</text>
<text x="122.97" y="398" font-size="6.7" text-anchor="middle" fill="#3a3a3a" font-weight="normal" font-style="normal" stroke="#3a3a3a" stroke-width="0.22" >24</text>
<text x="122.97" y="406" font-size="6.7" text-anchor="middle" fill="#3a3a3a" font-weight="normal" font-style="normal" stroke="#3a3a3a" stroke-width="0.22" >32</text>
<text x="145.56" y="398" font-size="6.7" text-anchor="middle" fill="#3a3a3a" font-weight="normal" font-style="normal" stroke="#3a3a3a" stroke-width="0.22" >20</text>
<text x="145.56" y="406" font-size="6.7" text-anchor="middle" fill="#3a3a3a" font-weight="normal" font-style="normal" stroke="#3a3a3a" stroke-width="0.22" >29</text>
<text x="168.15" y="398" font-size="6.7" text-anchor="middle" fill="#3a3a3a" font-weight="normal" font-style="normal" stroke="#3a3a3a" stroke-width="0.22" >15</text>
<text x="168.15" y="406" font-size="6.7" text-anchor="middle" fill="#3a3a3a" font-weight="normal" font-style="normal" stroke="#3a3a3a" stroke-width="0.22" >26</text>
<text x="190.74" y="398" font-size="6.7" text-anchor="middle" fill="#3a3a3a" font-weight="normal" font-style="normal" stroke="#3a3a3a" stroke-width="0.22" >11</text>
<text x="190.74" y="406" font-size="6.7" text-anchor="middle" fill="#3a3a3a" font-weight="normal" font-style="normal" stroke="#3a3a3a" stroke-width="0.22" >26</text>
<text x="213.33" y="398" font-size="6.7" text-anchor="middle" fill="#3a3a3a" font-weight="normal" font-style="normal" stroke="#3a3a3a" stroke-width="0.22" >9</text>
<text x="213.33" y="406" font-size="6.7" text-anchor="middle" fill="#3a3a3a" font-weight="normal" font-style="normal" stroke="#3a3a3a" stroke-width="0.22" >23</text>
<text x="235.92" y="398" font-size="6.7" text-anchor="middle" fill="#3a3a3a" font-weight="normal" font-style="normal" stroke="#3a3a3a" stroke-width="0.22" >8</text>
<text x="235.92" y="406" font-size="6.7" text-anchor="middle" fill="#3a3a3a" font-weight="normal" font-style="normal" stroke="#3a3a3a" stroke-width="0.22" >19</text>
<path d="M45.8 389.6V410.1" stroke="#111" stroke-width="1.4"/>
<path d="M45.1 409.4H245.6" stroke="#111" stroke-width="1.4"/>
<path d="M42.2 395.1H45.8" stroke="#111" stroke-width="1"/>
<path d="M42.2 403.1H45.8" stroke="#111" stroke-width="1"/>
<path d="M55.2 409.4V413" stroke="#111" stroke-width="1"/>
<text x="55.2" y="422.3" font-size="6.7" text-anchor="middle" fill="#3a3a3a" font-weight="normal" font-style="normal" stroke="#3a3a3a" stroke-width="0.22" >0</text>
<path d="M77.79 409.4V413" stroke="#111" stroke-width="1"/>
<text x="77.79" y="422.3" font-size="6.7" text-anchor="middle" fill="#3a3a3a" font-weight="normal" font-style="normal" stroke="#3a3a3a" stroke-width="0.22" >3</text>
<path d="M100.38 409.4V413" stroke="#111" stroke-width="1"/>
<text x="100.38" y="422.3" font-size="6.7" text-anchor="middle" fill="#3a3a3a" font-weight="normal" font-style="normal" stroke="#3a3a3a" stroke-width="0.22" >6</text>
<path d="M122.97 409.4V413" stroke="#111" stroke-width="1"/>
<text x="122.97" y="422.3" font-size="6.7" text-anchor="middle" fill="#3a3a3a" font-weight="normal" font-style="normal" stroke="#3a3a3a" stroke-width="0.22" >9</text>
<path d="M145.56 409.4V413" stroke="#111" stroke-width="1"/>
<text x="145.56" y="422.3" font-size="6.7" text-anchor="middle" fill="#3a3a3a" font-weight="normal" font-style="normal" stroke="#3a3a3a" stroke-width="0.22" >12</text>
<path d="M168.15 409.4V413" stroke="#111" stroke-width="1"/>
<text x="168.15" y="422.3" font-size="6.7" text-anchor="middle" fill="#3a3a3a" font-weight="normal" font-style="normal" stroke="#3a3a3a" stroke-width="0.22" >15</text>
<path d="M190.74 409.4V413" stroke="#111" stroke-width="1"/>
<text x="190.74" y="422.3" font-size="6.7" text-anchor="middle" fill="#3a3a3a" font-weight="normal" font-style="normal" stroke="#3a3a3a" stroke-width="0.22" >18</text>
<path d="M213.33 409.4V413" stroke="#111" stroke-width="1"/>
<text x="213.33" y="422.3" font-size="6.7" text-anchor="middle" fill="#3a3a3a" font-weight="normal" font-style="normal" stroke="#3a3a3a" stroke-width="0.22" >21</text>
<path d="M235.92 409.4V413" stroke="#111" stroke-width="1"/>
<text x="235.92" y="422.3" font-size="6.7" text-anchor="middle" fill="#3a3a3a" font-weight="normal" font-style="normal" stroke="#3a3a3a" stroke-width="0.22" >24</text>
<text x="151.2" y="434.6" font-size="9.3" text-anchor="middle" fill="#111" stroke="#111" stroke-width="0.32" textLength="39.2" lengthAdjust="spacingAndGlyphs">Time (months)</text>
<text x="272.3" y="225.5" font-size="12" text-anchor="start" fill="#000" font-weight="bold" font-style="normal" stroke="#000" stroke-width="0.3" >D</text>
<path d="M323.1 240H355.3V242.5H366.2V248.8H378.2V253.8H383.6V257.4H385.5V260.3H387.6V263.8H393.3V267.3H403.7V270.1H405.8V273.2H414.9V276.2H424.7V279.2H436.3V282.5H449.4V285.6H472.8V289H476.3V292.7H504" fill="none" stroke="#A5274F" stroke-width="1.2"/>
<path d="M323.1 240H366.2V241.6H385V244.6H387.4V247.8H405.1V250.5H409.5V253.2H430.2V256.2H463.3V259.3H504" fill="none" stroke="#3A5872" stroke-width="1.2"/>
<path d="M323.1 240H355.3" fill="none" stroke="#6B7A84" stroke-width="1.2"/>
<path d="M355.3 241.5H366.2V247.5H378.2V250H383.6V251.5H385.5V252.5H387.6V253.5H393.3V255H403.7V257H405.8V259H414.9V261.5H424.7V263.5H436.3V266H449.4V268.5H472.8V271H476.3V273H504V310.7H476.3V308H472.8V304.7H449.4V301.1H436.3V298.8H424.7V295.7H414.9V292.1H405.8V288.9H403.7V283.5H393.3V281H387.6V278.5H385.5V275H383.6V271.5H378.2V264.8H366.2V258.7H355.3Z" fill="#D72A4E" fill-opacity="0.3"/>
<defs><clipPath id="pcD"><path d="M355.3 241.5H366.2V247.5H378.2V250H383.6V251.5H385.5V252.5H387.6V253.5H393.3V255H403.7V257H405.8V259H414.9V261.5H424.7V263.5H436.3V266H449.4V268.5H472.8V271H476.3V273H504V310.7H476.3V308H472.8V304.7H449.4V301.1H436.3V298.8H424.7V295.7H414.9V292.1H405.8V288.9H403.7V283.5H393.3V281H387.6V278.5H385.5V275H383.6V271.5H378.2V264.8H366.2V258.7H355.3Z"/></clipPath><mask id="pmD" maskUnits="userSpaceOnUse" x="0" y="0" width="520" height="444"><rect x="0" y="0" width="520" height="444" fill="#fff"/><path d="M355.3 241.5H366.2V247.5H378.2V250H383.6V251.5H385.5V252.5H387.6V253.5H393.3V255H403.7V257H405.8V259H414.9V261.5H424.7V263.5H436.3V266H449.4V268.5H472.8V271H476.3V273H504V310.7H476.3V308H472.8V304.7H449.4V301.1H436.3V298.8H424.7V295.7H414.9V292.1H405.8V288.9H403.7V283.5H393.3V281H387.6V278.5H385.5V275H383.6V271.5H378.2V264.8H366.2V258.7H355.3Z" fill="#000"/></mask></defs>
<path d="M350.6 240H366.2V257.6Z" fill="#4180A8" fill-opacity="0.2" mask="url(#pmD)"/>
<path d="M350.6 240H366.2V257.6Z" fill="#4180A8" fill-opacity="0.12" clip-path="url(#pcD)"/>
<path d="M366.2 240H366.2V240.3H385V241.5H387.4V242.8H405.1V244H409.5V246H430.2V248H463.3V249.5H504V275H463.3V272.5H430.2V270H409.5V265H405.1V262.4H387.4V260H385V257.6H366.2L366.2 240Z" fill="#4180A8" fill-opacity="0.3"/>
<path d="M464.6 284.5V286.7" stroke="#C23158" stroke-width="1"/>
<path d="M487.8 291.6V293.8" stroke="#C23158" stroke-width="1"/>
<path d="M495.9 291.6V293.8" stroke="#C23158" stroke-width="1"/>
<path d="M498.9 258.2V260.4" stroke="#32638C" stroke-width="1"/>
<path d="M313.2 236.4V349" stroke="#111" stroke-width="1.4"/>
<path d="M312.5 348.3H512.8" stroke="#111" stroke-width="1.4"/>
<path d="M309.6 343.5H313.2" stroke="#111" stroke-width="1"/>
<text x="306.4" y="345.9" font-size="6.7" text-anchor="end" fill="#3a3a3a" font-weight="normal" font-style="normal" stroke="#3a3a3a" stroke-width="0.22" >0.00</text>
<path d="M309.6 317.65H313.2" stroke="#111" stroke-width="1"/>
<text x="306.4" y="320.05" font-size="6.7" text-anchor="end" fill="#3a3a3a" font-weight="normal" font-style="normal" stroke="#3a3a3a" stroke-width="0.22" >0.25</text>
<path d="M309.6 291.8H313.2" stroke="#111" stroke-width="1"/>
<text x="306.4" y="294.2" font-size="6.7" text-anchor="end" fill="#3a3a3a" font-weight="normal" font-style="normal" stroke="#3a3a3a" stroke-width="0.22" >0.50</text>
<path d="M309.6 265.95H313.2" stroke="#111" stroke-width="1"/>
<text x="306.4" y="268.35" font-size="6.7" text-anchor="end" fill="#3a3a3a" font-weight="normal" font-style="normal" stroke="#3a3a3a" stroke-width="0.22" >0.75</text>
<path d="M309.6 240.1H313.2" stroke="#111" stroke-width="1"/>
<text x="306.4" y="242.5" font-size="6.7" text-anchor="end" fill="#3a3a3a" font-weight="normal" font-style="normal" stroke="#3a3a3a" stroke-width="0.22" >1.00</text>
<path d="M322.5 348.3V351.9" stroke="#111" stroke-width="1"/>
<text x="322.5" y="361" font-size="6.7" text-anchor="middle" fill="#3a3a3a" font-weight="normal" font-style="normal" stroke="#3a3a3a" stroke-width="0.22" >0</text>
<path d="M345.09 348.3V351.9" stroke="#111" stroke-width="1"/>
<text x="345.09" y="361" font-size="6.7" text-anchor="middle" fill="#3a3a3a" font-weight="normal" font-style="normal" stroke="#3a3a3a" stroke-width="0.22" >3</text>
<path d="M367.67 348.3V351.9" stroke="#111" stroke-width="1"/>
<text x="367.67" y="361" font-size="6.7" text-anchor="middle" fill="#3a3a3a" font-weight="normal" font-style="normal" stroke="#3a3a3a" stroke-width="0.22" >6</text>
<path d="M390.26 348.3V351.9" stroke="#111" stroke-width="1"/>
<text x="390.26" y="361" font-size="6.7" text-anchor="middle" fill="#3a3a3a" font-weight="normal" font-style="normal" stroke="#3a3a3a" stroke-width="0.22" >9</text>
<path d="M412.85 348.3V351.9" stroke="#111" stroke-width="1"/>
<text x="412.85" y="361" font-size="6.7" text-anchor="middle" fill="#3a3a3a" font-weight="normal" font-style="normal" stroke="#3a3a3a" stroke-width="0.22" >12</text>
<path d="M435.44 348.3V351.9" stroke="#111" stroke-width="1"/>
<text x="435.44" y="361" font-size="6.7" text-anchor="middle" fill="#3a3a3a" font-weight="normal" font-style="normal" stroke="#3a3a3a" stroke-width="0.22" >15</text>
<path d="M458.02 348.3V351.9" stroke="#111" stroke-width="1"/>
<text x="458.02" y="361" font-size="6.7" text-anchor="middle" fill="#3a3a3a" font-weight="normal" font-style="normal" stroke="#3a3a3a" stroke-width="0.22" >18</text>
<path d="M480.61 348.3V351.9" stroke="#111" stroke-width="1"/>
<text x="480.61" y="361" font-size="6.7" text-anchor="middle" fill="#3a3a3a" font-weight="normal" font-style="normal" stroke="#3a3a3a" stroke-width="0.22" >21</text>
<path d="M503.2 348.3V351.9" stroke="#111" stroke-width="1"/>
<text x="503.2" y="361" font-size="6.7" text-anchor="middle" fill="#3a3a3a" font-weight="normal" font-style="normal" stroke="#3a3a3a" stroke-width="0.22" >24</text>
<text transform="translate(287.3 292.1) rotate(-90)" font-size="8.8" text-anchor="middle" fill="#111" stroke="#111" stroke-width="0.3" textLength="50.9" lengthAdjust="spacingAndGlyphs">Survival probability</text>
<text x="409" y="310.7" font-size="6.9" fill="#3a3a3a" textLength="29.5" lengthAdjust="spacingAndGlyphs"><tspan font-style="italic">P</tspan> = .0042</text>
<text x="418" y="373.7" font-size="9.3" text-anchor="middle" fill="#111" stroke="#111" stroke-width="0.32" textLength="39.2" lengthAdjust="spacingAndGlyphs">Time (months)</text>
<text x="312.9" y="384.5" font-size="6.5" text-anchor="start" fill="#3a3a3a" font-weight="normal" font-style="normal" stroke="#3a3a3a" stroke-width="0.22" >Number at risk</text>
<text x="306.9" y="398" font-size="6.6" text-anchor="end" fill="#CF3A60" font-weight="normal" font-style="normal" stroke="#CF3A60" stroke-width="0.22" textLength="22" lengthAdjust="spacingAndGlyphs">Control</text>
<text x="306.9" y="406" font-size="6.6" text-anchor="end" fill="#4F87B5" font-weight="normal" font-style="normal" stroke="#4F87B5" stroke-width="0.22" >ixazomib</text>
<text x="322.5" y="398" font-size="6.7" text-anchor="middle" fill="#3a3a3a" font-weight="normal" font-style="normal" stroke="#3a3a3a" stroke-width="0.22" >34</text>
<text x="322.5" y="406" font-size="6.7" text-anchor="middle" fill="#3a3a3a" font-weight="normal" font-style="normal" stroke="#3a3a3a" stroke-width="0.22" >39</text>
<text x="345.09" y="398" font-size="6.7" text-anchor="middle" fill="#3a3a3a" font-weight="normal" font-style="normal" stroke="#3a3a3a" stroke-width="0.22" >34</text>
<text x="345.09" y="406" font-size="6.7" text-anchor="middle" fill="#3a3a3a" font-weight="normal" font-style="normal" stroke="#3a3a3a" stroke-width="0.22" >39</text>
<text x="367.67" y="398" font-size="6.7" text-anchor="middle" fill="#3a3a3a" font-weight="normal" font-style="normal" stroke="#3a3a3a" stroke-width="0.22" >31</text>
<text x="367.67" y="406" font-size="6.7" text-anchor="middle" fill="#3a3a3a" font-weight="normal" font-style="normal" stroke="#3a3a3a" stroke-width="0.22" >37</text>
<text x="390.26" y="398" font-size="6.7" text-anchor="middle" fill="#3a3a3a" font-weight="normal" font-style="normal" stroke="#3a3a3a" stroke-width="0.22" >26</text>
<text x="390.26" y="406" font-size="6.7" text-anchor="middle" fill="#3a3a3a" font-weight="normal" font-style="normal" stroke="#3a3a3a" stroke-width="0.22" >34</text>
<text x="412.85" y="398" font-size="6.7" text-anchor="middle" fill="#3a3a3a" font-weight="normal" font-style="normal" stroke="#3a3a3a" stroke-width="0.22" >23</text>
<text x="412.85" y="406" font-size="6.7" text-anchor="middle" fill="#3a3a3a" font-weight="normal" font-style="normal" stroke="#3a3a3a" stroke-width="0.22" >32</text>
<text x="435.44" y="398" font-size="6.7" text-anchor="middle" fill="#3a3a3a" font-weight="normal" font-style="normal" stroke="#3a3a3a" stroke-width="0.22" >21</text>
<text x="435.44" y="406" font-size="6.7" text-anchor="middle" fill="#3a3a3a" font-weight="normal" font-style="normal" stroke="#3a3a3a" stroke-width="0.22" >31</text>
<text x="458.02" y="398" font-size="6.7" text-anchor="middle" fill="#3a3a3a" font-weight="normal" font-style="normal" stroke="#3a3a3a" stroke-width="0.22" >17</text>
<text x="458.02" y="406" font-size="6.7" text-anchor="middle" fill="#3a3a3a" font-weight="normal" font-style="normal" stroke="#3a3a3a" stroke-width="0.22" >31</text>
<text x="480.61" y="398" font-size="6.7" text-anchor="middle" fill="#3a3a3a" font-weight="normal" font-style="normal" stroke="#3a3a3a" stroke-width="0.22" >14</text>
<text x="480.61" y="406" font-size="6.7" text-anchor="middle" fill="#3a3a3a" font-weight="normal" font-style="normal" stroke="#3a3a3a" stroke-width="0.22" >29</text>
<text x="503.2" y="398" font-size="6.7" text-anchor="middle" fill="#3a3a3a" font-weight="normal" font-style="normal" stroke="#3a3a3a" stroke-width="0.22" >10</text>
<text x="503.2" y="406" font-size="6.7" text-anchor="middle" fill="#3a3a3a" font-weight="normal" font-style="normal" stroke="#3a3a3a" stroke-width="0.22" >28</text>
<path d="M313.2 389.6V410.1" stroke="#111" stroke-width="1.4"/>
<path d="M312.5 409.4H512.8" stroke="#111" stroke-width="1.4"/>
<path d="M309.6 395.1H313.2" stroke="#111" stroke-width="1"/>
<path d="M309.6 403.1H313.2" stroke="#111" stroke-width="1"/>
<path d="M322.5 409.4V413" stroke="#111" stroke-width="1"/>
<text x="322.5" y="422.3" font-size="6.7" text-anchor="middle" fill="#3a3a3a" font-weight="normal" font-style="normal" stroke="#3a3a3a" stroke-width="0.22" >0</text>
<path d="M345.09 409.4V413" stroke="#111" stroke-width="1"/>
<text x="345.09" y="422.3" font-size="6.7" text-anchor="middle" fill="#3a3a3a" font-weight="normal" font-style="normal" stroke="#3a3a3a" stroke-width="0.22" >3</text>
<path d="M367.67 409.4V413" stroke="#111" stroke-width="1"/>
<text x="367.67" y="422.3" font-size="6.7" text-anchor="middle" fill="#3a3a3a" font-weight="normal" font-style="normal" stroke="#3a3a3a" stroke-width="0.22" >6</text>
<path d="M390.26 409.4V413" stroke="#111" stroke-width="1"/>
<text x="390.26" y="422.3" font-size="6.7" text-anchor="middle" fill="#3a3a3a" font-weight="normal" font-style="normal" stroke="#3a3a3a" stroke-width="0.22" >9</text>
<path d="M412.85 409.4V413" stroke="#111" stroke-width="1"/>
<text x="412.85" y="422.3" font-size="6.7" text-anchor="middle" fill="#3a3a3a" font-weight="normal" font-style="normal" stroke="#3a3a3a" stroke-width="0.22" >12</text>
<path d="M435.44 409.4V413" stroke="#111" stroke-width="1"/>
<text x="435.44" y="422.3" font-size="6.7" text-anchor="middle" fill="#3a3a3a" font-weight="normal" font-style="normal" stroke="#3a3a3a" stroke-width="0.22" >15</text>
<path d="M458.02 409.4V413" stroke="#111" stroke-width="1"/>
<text x="458.02" y="422.3" font-size="6.7" text-anchor="middle" fill="#3a3a3a" font-weight="normal" font-style="normal" stroke="#3a3a3a" stroke-width="0.22" >18</text>
<path d="M480.61 409.4V413" stroke="#111" stroke-width="1"/>
<text x="480.61" y="422.3" font-size="6.7" text-anchor="middle" fill="#3a3a3a" font-weight="normal" font-style="normal" stroke="#3a3a3a" stroke-width="0.22" >21</text>
<path d="M503.2 409.4V413" stroke="#111" stroke-width="1"/>
<text x="503.2" y="422.3" font-size="6.7" text-anchor="middle" fill="#3a3a3a" font-weight="normal" font-style="normal" stroke="#3a3a3a" stroke-width="0.22" >24</text>
<text x="418.2" y="434.6" font-size="9.3" text-anchor="middle" fill="#111" stroke="#111" stroke-width="0.32" textLength="39.2" lengthAdjust="spacingAndGlyphs">Time (months)</text>
<rect x="0.5" y="0.5" width="519" height="443" fill="none" stroke="#4a4a4a" stroke-width="1"/>
</svg>
</body></html>
